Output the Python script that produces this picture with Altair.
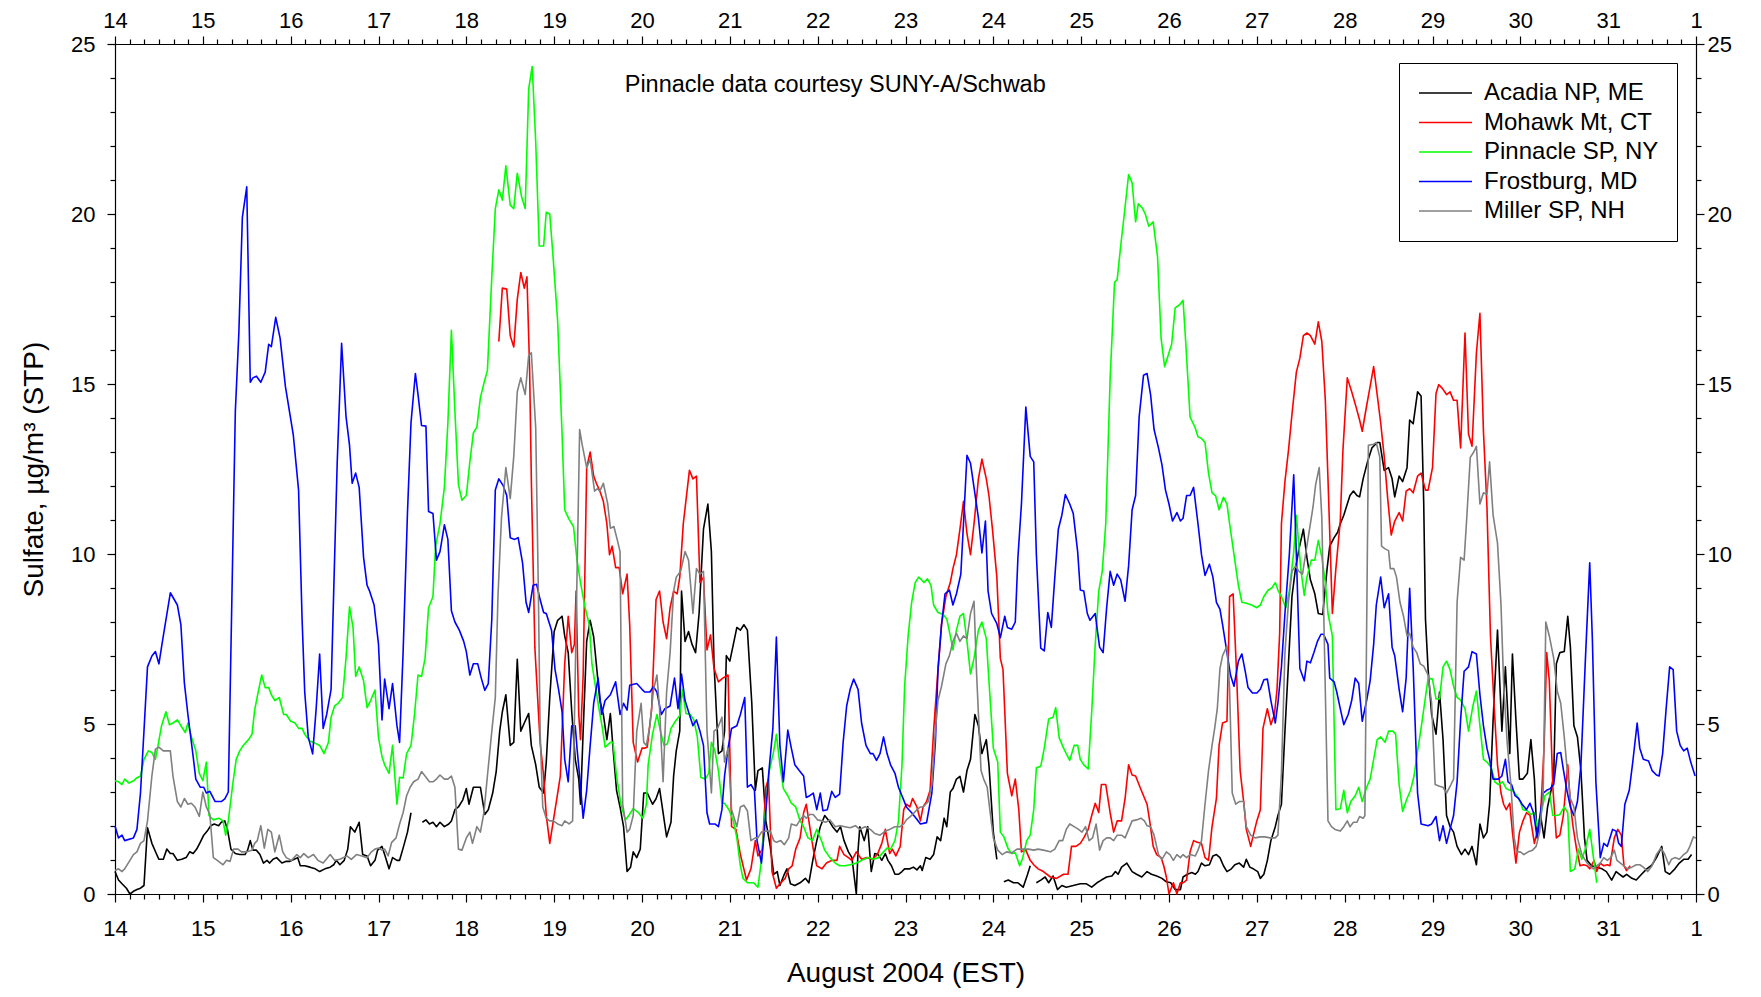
import altair as alt
import pandas as pd

# ---- data (day of August 2004, sulfate ug/m3); None = gap ----
acadia = [(14.00,0.66),(14.04,0.41),(14.08,0.30),(14.13,0.17),(14.17,0.0),(14.21,0.08),(14.25,0.13),(14.29,0.17),(14.33,0.25),(14.37,1.95),(14.42,1.49),(14.47,1.19),(14.50,1.02),(14.55,1.02),(14.59,1.32),(14.63,1.19),(14.66,1.19),(14.71,0.99),(14.76,1.02),(14.81,1.07),(14.85,1.24),(14.89,1.19),(14.93,1.32),(14.97,1.52),(15.01,1.73),(15.05,1.85),(15.09,2.01),(15.13,2.06),(15.18,2.01),(15.21,2.11),(15.25,2.15),(15.28,1.90),(15.32,1.32),(15.37,1.19),(15.42,1.16),(15.48,1.16),(15.51,1.29),(15.54,1.57),(15.57,1.29),(15.61,1.29),(15.65,1.16),(15.69,0.91),(15.73,0.99),(15.76,0.91),(15.80,1.02),(15.84,1.07),(15.90,0.91),(15.95,0.96),(15.99,0.96),(16.04,1.02),(16.08,1.07),(16.11,0.83),(16.16,0.83),(16.22,0.79),(16.28,0.74),(16.33,0.66),(16.39,0.74),(16.45,0.79),(16.49,0.86),(16.52,0.99),(16.56,0.86),(16.61,0.99),(16.65,1.32),(16.68,1.98),(16.73,1.82),(16.78,2.11),(16.82,1.16),(16.87,1.12),(16.91,0.83),(16.96,0.99),
  (16.99,1.29),(17.04,1.40),(17.07,1.16),(17.12,0.74),(17.16,1.07),(17.21,0.99),(17.24,0.99),(17.28,1.35),(17.33,1.82),(17.37,2.39),None,(17.50,2.11),(17.54,2.18),(17.58,2.06),(17.62,2.11),(17.66,1.98),(17.70,2.11),(17.75,1.98),(17.80,2.06),(17.83,2.15),(17.87,2.48),(17.91,2.56),(17.96,2.77),(18.00,3.10),(18.03,2.64),(18.08,3.14),(18.12,3.14),(18.16,3.14),(18.21,2.34),(18.25,2.48),(18.30,2.97),(18.34,3.60),(18.38,4.79),(18.41,5.36),(18.45,5.86),(18.50,4.37),(18.54,4.46),(18.58,6.90),(18.62,4.79),(18.66,5.03),(18.71,5.31),(18.74,4.37),(18.79,3.80),(18.83,3.14),(18.88,2.97),(18.91,3.88),(18.95,5.78),(19.00,7.72),(19.04,8.05),(19.09,8.17),(19.12,7.59),(19.16,7.10),(19.20,5.36),(19.24,3.96),(19.28,3.38),(19.30,2.64),(19.33,4.79),(19.37,7.43),(19.41,8.05),(19.45,7.56),(19.48,6.77),(19.52,5.69),(19.56,5.28),(19.60,4.54),(19.64,5.31),(19.67,4.29),(19.71,3.05),(19.75,2.56),(19.79,1.98),(19.83,0.66),(19.87,0.79),(19.90,1.24),(19.94,1.07),(19.98,1.32),(20.02,2.97),(20.06,2.97),
  (20.12,2.64),(20.16,2.80),(20.20,3.10),(20.24,2.39),(20.28,1.68),(20.33,2.11),(20.36,3.47),(20.39,4.21),(20.43,4.80),(20.45,8.91),(20.49,7.43),(20.53,7.72),(20.57,7.34),(20.61,7.10),(20.65,8.25),(20.70,10.73),(20.75,11.47),(20.79,10.07),(20.82,6.77),(20.87,4.13),(20.91,4.21),(20.94,4.79),(20.96,7.01),(21.00,6.85),(21.04,7.34),(21.08,7.84),(21.12,7.76),(21.16,7.92),(21.20,7.76),(21.25,5.61),(21.29,3.05),(21.32,3.63),(21.37,3.71),(21.41,2.15),(21.46,1.40),(21.50,0.58),(21.54,0.66),(21.57,0.25),(21.62,0.58),(21.65,0.74),(21.69,0.30),(21.74,0.25),(21.80,0.33),(21.86,0.46),(21.90,0.33),(21.95,1.07),(21.99,1.57),(22.03,1.98),(22.08,2.31),(22.13,2.15),(22.17,1.98),(22.22,1.82),(22.26,1.98),(22.30,1.57),(22.35,1.24),(22.39,1.07),(22.44,0.0),(22.46,1.29),(22.48,1.98),(22.53,1.57),(22.57,1.98),(22.61,0.66),(22.65,1.19),(22.69,1.16),(22.73,0.99),(22.77,1.19),(22.80,0.99),(22.84,0.83),(22.88,0.58),(22.92,0.58),(22.96,0.66),(22.99,0.74),(23.05,0.74),(23.09,0.79),(23.13,0.71),(23.17,0.83),
  (23.19,0.69),(23.23,1.07),(23.28,1.02),(23.32,1.16),(23.36,1.68),(23.40,1.57),(23.44,2.23),(23.47,1.98),(23.51,3.00),(23.54,3.10),(23.58,3.38),(23.62,3.46),(23.66,3.00),(23.70,3.63),(23.74,3.96),(23.79,5.28),(23.83,4.95),(23.87,4.13),(23.92,4.54),(23.95,3.80),(24.00,1.82),(24.04,1.02),None,(24.12,0.36),(24.17,0.41),(24.23,0.33),(24.28,0.33),(24.34,0.20),(24.39,0.58),(24.42,0.83),None,(24.49,0.33),(24.54,0.41),(24.59,0.50),(24.63,0.33),(24.68,0.53),(24.73,0.13),(24.78,0.25),(24.83,0.20),(24.91,0.25),(24.99,0.30),(25.06,0.30),(25.12,0.20),(25.18,0.33),(25.23,0.41),(25.29,0.50),(25.35,0.53),(25.39,0.66),(25.42,0.58),(25.46,0.79),(25.52,0.91),(25.58,0.66),(25.63,0.58),(25.69,0.50),(25.75,0.66),(25.80,0.58),(25.86,0.53),(25.92,0.46),(25.97,0.36),(26.02,0.33),(26.07,0.13),(26.13,0.13),
  (26.16,0.50),(26.21,0.58),(26.26,0.63),(26.30,0.58),(26.33,0.66),(26.37,0.91),(26.41,0.83),(26.46,0.86),(26.50,1.12),(26.54,1.16),(26.58,1.07),(26.62,0.83),(26.66,0.66),(26.71,0.74),(26.75,0.86),(26.80,0.91),(26.85,0.79),(26.88,1.02),(26.92,0.79),(26.96,0.74),(27.01,0.66),(27.04,0.46),(27.08,0.58),(27.12,0.99),(27.16,1.57),(27.21,1.98),(27.24,2.31),(27.28,2.64),(27.32,4.79),(27.36,6.77),(27.40,8.75),(27.44,9.57),(27.48,10.15),(27.53,10.73),(27.57,9.90),(27.61,9.24),(27.66,8.83),(27.70,8.25),(27.75,8.22),(27.80,9.57),(27.83,10.23),(27.88,10.48),(27.92,10.64),(27.95,10.89),(27.99,11.14),(28.02,11.39),(28.06,11.72),(28.10,11.85),(28.14,11.72),(28.17,11.68),(28.21,12.21),(28.26,12.71),(28.31,13.12),(28.37,13.28),(28.40,13.28),(28.45,12.46),(28.50,12.54),(28.54,12.21),(28.57,11.68),(28.62,12.29),(28.66,12.13),(28.71,12.54),(28.74,13.94),(28.78,13.83),(28.83,14.77),(28.87,14.65),(28.90,11.50),(28.92,8.09),(28.95,6.60),(28.99,5.28),(29.04,4.70),(29.08,5.94),(29.12,4.54),(29.16,2.31),(29.20,1.98),
  (29.24,1.82),(29.28,1.40),(29.33,1.16),(29.37,1.32),(29.41,1.16),(29.45,1.40),(29.50,0.86),(29.54,2.06),(29.58,1.65),(29.62,1.82),(29.65,2.64),(29.69,5.12),(29.74,7.76),(29.79,4.79),(29.83,6.68),(29.88,4.13),(29.91,7.06),(29.95,5.12),(29.99,3.38),(30.03,3.38),(30.08,3.55),(30.12,4.54),(30.16,3.38),(30.19,1.65),(30.23,2.31),(30.27,1.65),(30.31,2.56),(30.35,3.05),(30.38,3.47),(30.41,6.77),(30.45,7.10),(30.50,7.13),(30.54,8.17),(30.57,7.26),(30.61,4.95),(30.65,4.62),(30.69,3.63),(30.73,1.65),(30.76,0.99),(30.81,0.83),(30.87,0.79),(30.93,0.74),(30.98,0.66),(31.04,0.41),(31.09,0.66),(31.13,0.58),(31.17,0.50),(31.21,0.58),(31.27,0.46),(31.32,0.41),(31.38,0.58),(31.44,0.74),(31.50,0.86),(31.55,1.07),(31.61,1.40),(31.65,0.66),(31.70,0.58),(31.76,0.74),(31.81,0.91),(31.86,1.02),(31.91,1.02),(31.95,1.16)]

mohawk = [(18.37,16.25),(18.41,17.82),(18.46,17.79),(18.50,16.42),(18.54,16.09),(18.58,17.49),(18.62,18.28),(18.66,17.82),(18.69,18.15),(18.72,15.51),(18.74,12.21),(18.78,7.26),(18.84,4.46),(18.88,3.47),(18.91,2.31),(18.95,1.49),(19.00,2.31),(19.04,2.97),(19.07,3.47),(19.12,6.77),(19.16,8.17),(19.20,7.10),(19.23,7.34),(19.25,8.91),(19.28,5.28),(19.30,4.54),(19.33,6.44),(19.37,12.54),(19.41,13.00),(19.45,12.29),(19.48,12.08),(19.52,11.85),(19.56,11.55),(19.60,10.89),(19.63,9.98),(19.66,10.23),(19.70,9.60),(19.74,9.60),(19.78,8.83),(19.83,9.41),(19.86,7.92),(19.90,4.46),(19.95,3.88),(20.00,4.29),(20.03,4.29),
  (20.06,4.32),(20.11,5.45),(20.16,8.66),(20.20,8.91),(20.24,8.00),(20.28,7.51),(20.32,8.42),(20.36,8.91),(20.40,8.83),(20.43,9.32),(20.47,10.89),(20.54,12.46),(20.58,12.21),(20.62,12.29),(20.66,9.16),(20.70,9.32),(20.74,7.18),(20.78,7.62),(20.82,6.63),(20.87,6.24),(20.92,6.35),(20.98,6.44),(21.02,1.98),(21.07,1.90),(21.12,1.16),(21.19,0.41),(21.24,0.74),(21.29,1.57),(21.32,1.12),(21.37,1.32),(21.41,3.14),(21.44,3.38),(21.48,0.66),(21.53,0.17),(21.58,0.33),(21.63,0.46),(21.67,0.74),(21.71,0.83),(21.75,1.32),(21.80,1.65),(21.84,2.39),(21.87,2.64),(21.91,1.98),(21.95,1.32),(21.99,0.83),(22.05,0.74),(22.10,0.91),(22.16,0.99),(22.22,0.99),(22.25,1.40),(22.30,1.16),(22.35,1.07),(22.39,0.99),(22.44,1.24),(22.50,1.02),(22.56,1.07),(22.62,1.02),(22.68,1.16),(22.73,1.49),(22.77,1.90),(22.82,1.19),(22.85,1.32),(22.89,1.12),(22.94,1.40),(22.98,2.48),(23.01,2.64),(23.05,2.56),(23.08,2.81),(23.13,2.56),(23.17,2.15),
  (23.20,2.56),(23.24,2.72),(23.28,3.05),(23.32,4.79),(23.37,6.60),(23.41,7.92),(23.46,8.75),(23.51,9.16),(23.54,9.57),(23.58,9.98),(23.62,10.73),(23.66,11.55),(23.70,10.60),(23.74,9.98),(23.78,10.89),(23.83,12.21),(23.87,12.79),(23.92,12.21),(23.95,11.72),(23.99,10.73),(24.04,9.32),(24.08,6.93),(24.11,6.60),(24.16,3.55),(24.21,2.89),(24.25,3.38),(24.29,2.48),(24.32,1.24),(24.37,1.29),(24.42,0.99),(24.46,0.86),(24.51,0.74),(24.57,0.66),(24.65,0.50),(24.72,0.46),(24.80,0.58),(24.85,0.58),(24.89,1.40),(24.94,1.40),(24.99,1.49),(25.03,1.65),(25.08,1.90),(25.12,2.31),(25.16,2.67),(25.20,2.40),(25.23,3.22),(25.28,3.22),(25.33,2.39),(25.37,1.82),(25.41,2.15),(25.46,2.15),(25.50,2.81),(25.54,3.80),(25.58,3.50),(25.62,3.47),(25.67,3.14),(25.71,2.89),(25.75,2.64),(25.78,2.15),(25.82,1.40),(25.86,1.16),(25.91,1.07),(25.94,0.83),(25.97,0.50),(26.00,0.0),(26.05,0.33),(26.09,0.0),(26.13,0.33),
  (26.16,0.33),(26.20,0.41),(26.24,1.24),(26.28,1.57),(26.32,1.52),(26.37,1.49),(26.41,1.07),(26.45,0.99),(26.49,1.98),(26.54,2.81),(26.57,4.37),(26.61,5.03),(26.66,5.08),(26.69,8.75),(26.73,8.83),(26.77,6.44),(26.81,3.63),(26.85,2.72),(26.88,1.90),(26.93,1.40),(26.96,1.73),(27.00,2.15),(27.04,2.48),(27.07,4.87),(27.12,5.45),(27.16,4.98),(27.20,5.28),(27.23,6.02),(27.26,7.67),(27.28,10.89),(27.32,12.13),(27.36,13.04),(27.40,14.11),(27.45,15.35),(27.49,15.76),(27.53,16.42),(27.57,16.50),(27.61,16.42),(27.66,16.17),(27.70,16.83),(27.74,16.25),(27.78,14.52),(27.81,12.21),(27.86,8.25),(27.90,9.57),(27.95,10.97),(27.98,13.04),(28.03,15.18),(28.08,14.77),(28.13,14.32),(28.17,13.94),(28.20,13.61),(28.25,14.36),(28.29,14.93),(28.33,15.51),(28.37,14.69),(28.41,13.86),(28.45,12.87),(28.49,11.63),(28.53,10.56),(28.57,10.97),(28.62,11.22),(28.66,10.97),(28.70,11.85),(28.74,11.92),(28.78,11.80),(28.83,12.29),(28.87,12.38),(28.92,11.88),(28.95,11.88),(29.00,12.54),(29.04,14.72),(29.07,14.98),(29.11,14.88),(29.16,14.69),(29.20,14.77),
  (29.24,14.52),(29.28,14.52),(29.32,13.12),(29.37,16.50),(29.41,13.53),(29.45,13.17),(29.50,15.92),(29.54,17.08),(29.58,13.61),(29.62,11.39),(29.66,7.59),(29.70,5.61),(29.74,3.80),(29.78,2.97),(29.81,2.64),(29.84,2.48),(29.88,2.67),(29.91,1.82),(29.95,0.91),(29.99,1.82),(30.03,2.15),(30.07,2.39),(30.11,2.31),(30.16,1.49),(30.19,1.82),(30.23,2.31),(30.27,4.29),(30.30,7.10),(30.33,6.27),(30.37,3.14),(30.41,1.65),(30.45,1.73),(30.49,2.31),(30.54,3.80),(30.57,2.64),(30.60,1.98),(30.64,1.32),(30.68,0.83),(30.72,0.86),(30.76,0.83),(30.79,0.74),(30.84,0.99),(30.87,0.66),(30.91,0.91),(30.95,0.83),(30.99,0.86),(31.02,0.83),(31.07,1.65),(31.11,1.90),(31.15,1.73),(31.18,0.83),(31.21,0.69),(31.25,0.83)]

pinnacle = [(14.00,3.33),(14.04,3.30),(14.08,3.22),(14.11,3.38),(14.16,3.26),(14.21,3.33),(14.25,3.42),(14.29,3.47),(14.33,3.96),(14.38,4.21),(14.42,4.16),(14.46,3.96),(14.49,4.37),(14.53,4.95),(14.58,5.36),(14.62,4.98),(14.66,5.03),(14.71,5.12),(14.75,4.95),(14.80,4.75),(14.83,5.03),(14.87,4.62),(14.92,4.21),(14.96,3.55),(15.00,3.33),(15.04,3.88),(15.07,2.31),(15.12,2.18),(15.18,2.23),(15.23,2.15),(15.26,1.73),(15.29,2.15),(15.34,3.22),(15.38,3.96),(15.42,4.21),(15.46,4.37),(15.52,4.54),(15.56,4.70),(15.59,5.41),(15.63,5.94),(15.67,6.44),(15.71,6.07),(15.75,6.07),(15.78,5.86),(15.82,5.69),(15.87,5.78),(15.92,5.28),(15.95,5.28),(16.00,5.08),(16.05,5.03),(16.09,4.87),(16.13,4.87),(16.16,4.70),(16.22,4.49),(16.26,4.46),(16.33,4.37),(16.38,4.13),(16.43,4.46),(16.46,5.20),(16.50,5.53),(16.54,5.61),(16.59,5.78),(16.63,6.93),(16.67,8.45),(16.71,7.84),(16.74,6.40),(16.78,6.68),(16.83,6.27),(16.87,5.48),(16.91,5.69),
  (16.96,6.00),(17.00,4.60),(17.04,4.04),(17.07,3.80),(17.12,3.55),(17.16,4.37),(17.21,2.64),(17.24,3.43),(17.28,3.41),(17.32,4.13),(17.37,4.37),(17.41,5.28),(17.45,6.44),(17.49,6.40),(17.53,6.93),(17.57,8.42),(17.62,8.75),(17.65,10.23),(17.70,10.89),(17.75,11.96),(17.79,13.86),(17.83,16.58),(17.87,14.19),(17.91,12.05),(17.95,11.58),(18.00,11.72),(18.04,12.71),(18.08,13.56),(18.12,13.73),(18.16,14.60),(18.20,15.02),(18.24,15.40),(18.29,18.15),(18.33,20.16),(18.37,20.71),(18.41,20.41),(18.45,21.42),(18.50,20.26),(18.54,20.16),(18.58,21.20),(18.63,20.50),(18.67,20.16),(18.71,23.68),(18.75,24.34),(18.79,22.11),(18.83,19.06),(18.88,19.06),(18.91,20.05),(18.95,20.00),(18.99,18.65),(19.04,16.83),(19.09,13.53),(19.12,11.30),(19.17,11.02),(19.22,10.81),(19.26,9.82),(19.30,9.16),(19.35,8.45),(19.40,7.92),(19.43,6.77),(19.47,6.11),(19.51,5.45),(19.55,4.87),(19.58,4.32),(19.64,4.46),(19.67,4.46),(19.71,3.47),(19.76,2.64),(19.81,2.18),(19.85,2.31),(19.90,2.51),(19.96,2.39),(20.01,2.23),(20.05,2.64),
  (20.07,3.80),(20.12,4.70),(20.17,5.28),(20.21,4.79),(20.25,4.37),(20.29,4.42),(20.33,4.87),(20.38,5.08),(20.43,5.25),(20.46,6.02),(20.50,5.31),(20.55,5.28),(20.59,5.12),(20.63,4.62),(20.67,3.43),(20.72,3.38),(20.76,3.55),(20.79,4.46),(20.83,4.21),(20.87,3.63),(20.91,2.67),(20.94,2.67),(20.99,2.48),(21.04,2.15),(21.08,1.65),(21.12,0.83),(21.15,0.46),(21.20,0.33),(21.27,0.33),(21.32,0.20),(21.36,0.99),(21.40,2.31),(21.45,3.63),(21.50,4.21),(21.53,4.70),(21.57,3.80),(21.61,3.10),(21.66,2.89),(21.70,2.67),(21.75,2.56),(21.80,2.15),(21.84,1.98),(21.89,1.65),(21.94,1.57),(21.99,1.90),(22.05,1.52),(22.08,1.29),(22.14,1.07),(22.20,0.91),(22.25,0.83),(22.31,0.83),(22.37,0.86),(22.44,0.91),(22.50,0.99),(22.58,1.07),(22.63,1.02),(22.69,1.07),(22.75,1.24),(22.79,1.35),(22.83,1.32),(22.88,1.57),(22.92,2.15),(22.96,3.80),(22.99,6.11),(23.03,7.59),(23.07,8.58),(23.11,9.16),(23.15,9.32),
  (23.17,9.27),(23.21,9.16),(23.25,9.27),(23.29,9.08),(23.32,8.50),(23.37,8.28),(23.43,8.22),(23.47,8.09),(23.51,7.59),(23.54,7.18),(23.58,7.76),(23.62,8.17),(23.66,8.25),(23.70,7.43),(23.74,6.47),(23.78,6.93),(23.83,7.76),(23.87,8.00),(23.92,7.51),(23.95,6.27),(24.00,4.29),(24.05,3.88),(24.08,1.82),(24.12,1.68),(24.17,1.32),(24.21,1.19),(24.25,1.21),(24.30,0.83),(24.33,1.02),(24.38,1.57),(24.42,1.73),(24.46,2.48),(24.49,3.71),(24.54,3.76),(24.58,4.29),(24.63,5.15),(24.68,5.20),(24.71,5.48),(24.75,4.59),(24.80,4.29),(24.83,4.13),(24.87,3.93),(24.92,4.37),(24.96,4.37),(24.99,3.96),(25.03,3.80),(25.08,3.68),(25.12,5.36),(25.16,7.34),(25.20,8.91),(25.24,9.49),(25.28,10.89),(25.33,15.18),(25.38,17.99),(25.41,18.07),(25.45,19.06),(25.49,19.97),(25.54,21.16),(25.58,20.92),(25.62,19.77),(25.65,20.30),(25.70,20.16),(25.73,20.00),(25.77,19.64),(25.82,19.77),(25.87,18.73),(25.91,16.34),(25.95,15.51),(25.99,15.84),(26.03,16.17),(26.07,17.24),(26.12,17.33),(26.16,17.46),(26.19,16.25),(26.24,14.03),
  (26.30,13.70),(26.33,13.45),(26.37,13.40),(26.41,13.28),(26.45,12.38),(26.49,11.80),(26.53,11.72),(26.57,11.30),(26.62,11.67),(26.66,11.47),(26.69,10.89),(26.74,9.98),(26.79,9.08),(26.83,8.58),(26.88,8.55),(26.94,8.50),(27.00,8.42),(27.04,8.50),(27.08,8.75),(27.13,8.94),(27.17,9.00),(27.21,9.16),(27.24,8.94),(27.28,8.75),(27.33,8.42),(27.37,8.91),(27.42,10.07),(27.45,11.14),(27.50,9.57),(27.54,8.78),(27.57,9.32),(27.62,9.82),(27.66,9.82),(27.70,10.40),(27.74,9.90),(27.78,9.16),(27.81,8.25),(27.86,7.59),(27.90,2.48),(27.95,2.51),(27.99,3.05),(28.03,2.39),(28.07,2.72),(28.12,2.89),(28.16,3.14),(28.20,2.72),(28.25,3.14),(28.29,3.38),(28.33,3.96),(28.37,4.54),(28.41,4.62),(28.46,4.46),(28.50,4.79),(28.55,4.79),(28.58,4.70),(28.62,3.22),(28.66,2.43),(28.71,2.81),(28.75,3.05),(28.79,3.47),(28.83,4.21),(28.87,4.87),(28.91,5.61),(28.95,6.35),(29.00,6.32),(29.04,5.74),(29.08,5.74),(29.12,6.68),(29.16,6.85),(29.20,6.60),
  (29.24,6.11),(29.28,5.78),(29.32,5.70),(29.37,5.45),(29.41,4.79),(29.46,5.53),(29.50,5.97),(29.54,4.95),(29.58,3.96),(29.62,3.88),(29.67,3.71),(29.71,3.30),(29.75,3.22),(29.80,3.30),(29.84,3.10),(29.88,3.05),(29.91,3.05),(29.96,2.89),(30.00,2.72),(30.03,2.48),(30.08,2.45),(30.12,2.34),(30.16,2.39),(30.19,1.98),(30.23,2.31),(30.28,2.89),(30.33,3.00),(30.37,2.31),(30.41,2.31),(30.45,2.34),(30.50,2.56),(30.54,2.39),(30.57,0.66),(30.62,0.74),(30.66,1.32),(30.70,1.02),(30.74,1.32),(30.79,1.90),(30.82,1.32),(30.87,0.33)]

frostburg = [(14.00,2.00),(14.04,1.65),(14.08,1.73),(14.11,1.57),(14.21,1.65),(14.25,1.90),(14.29,2.97),(14.33,4.80),(14.37,6.68),(14.42,7.00),(14.46,7.13),(14.50,6.77),(14.54,7.43),(14.63,8.86),(14.71,8.50),(14.75,7.92),(14.79,6.20),(14.83,5.28),(14.89,4.04),(14.92,3.38),(14.97,3.14),(15.01,3.14),(15.04,2.97),(15.08,3.02),(15.14,2.72),(15.21,2.72),(15.25,2.80),(15.29,3.00),(15.37,14.19),(15.41,16.50),(15.45,19.90),(15.50,20.80),(15.54,15.05),(15.57,15.18),(15.61,15.23),(15.66,15.05),(15.71,15.35),(15.75,16.17),(15.78,16.10),(15.83,16.96),(15.88,16.34),(15.94,14.93),(16.03,13.50),(16.09,11.88),(16.13,8.09),(16.16,5.94),(16.20,4.62),(16.25,4.12),(16.29,5.44),(16.33,7.06),(16.37,4.87),(16.41,5.28),(16.46,6.02),(16.49,8.90),(16.53,12.70),(16.58,16.20),(16.63,14.05),(16.67,13.20),(16.70,12.08),(16.74,12.38),(16.78,11.96),(16.83,9.90),(16.87,9.08),(16.90,8.90),
  (16.95,8.50),(17.00,7.34),(17.04,5.12),(17.07,6.32),(17.12,5.45),(17.16,6.19),(17.21,4.95),(17.24,4.46),(17.28,7.10),(17.33,11.22),(17.37,13.86),(17.42,15.31),(17.45,14.69),(17.49,13.78),(17.54,13.76),(17.57,11.25),(17.62,11.19),(17.66,9.82),(17.70,10.07),(17.75,10.86),(17.79,10.43),(17.83,8.33),(17.87,8.00),(17.92,7.76),(17.97,7.43),(18.00,7.13),(18.04,6.44),(18.08,6.77),(18.13,6.77),(18.17,6.35),(18.21,5.99),(18.25,6.19),(18.29,8.09),(18.33,11.88),(18.37,12.21),(18.42,12.01),(18.46,11.72),(18.50,10.48),(18.55,10.43),(18.59,10.48),(18.64,9.74),(18.68,8.58),(18.71,8.28),(18.76,9.08),(18.80,9.11),(18.84,8.66),(18.88,8.28),(18.91,8.25),(18.97,7.76),(19.01,6.60),(19.05,6.02),(19.09,5.36),(19.12,3.96),(19.16,3.30),(19.20,4.95),(19.24,4.95),(19.26,4.29),(19.29,3.47),(19.33,2.23),(19.37,3.05),(19.41,4.37),(19.45,5.61),(19.50,6.35),(19.54,5.28),(19.58,5.69),(19.64,5.86),(19.70,6.24),(19.75,5.28),(19.79,5.61),(19.83,5.41),(19.86,6.14),(19.94,6.19),(20.00,6.02),(20.03,5.94),
  (20.09,5.94),(20.13,6.10),(20.17,5.94),(20.22,5.28),(20.26,5.45),(20.32,5.53),(20.37,6.35),(20.41,5.45),(20.45,6.47),(20.49,5.69),(20.53,5.36),(20.58,4.95),(20.62,5.12),(20.66,4.79),(20.70,4.37),(20.74,2.39),(20.77,2.06),(20.83,2.06),(20.87,1.98),(20.91,2.48),(20.94,3.47),(20.98,4.29),(21.02,4.87),(21.08,4.95),(21.12,5.28),(21.17,5.78),(21.20,3.14),(21.24,3.22),(21.28,3.05),(21.31,1.57),(21.36,0.91),(21.40,2.06),(21.44,3.47),(21.49,4.87),(21.53,7.56),(21.57,4.37),(21.61,3.30),(21.66,4.82),(21.70,4.29),(21.74,3.80),(21.79,3.63),(21.84,3.47),(21.87,2.84),(21.91,2.89),(21.95,2.97),(21.99,2.48),(22.03,2.97),(22.06,2.45),(22.11,2.48),(22.16,3.02),(22.20,2.84),(22.25,2.94),(22.29,4.46),(22.33,5.53),(22.37,6.02),(22.41,6.32),(22.46,6.02),(22.50,5.03),(22.55,4.37),(22.60,4.13),(22.63,4.13),(22.67,3.93),(22.71,4.13),(22.75,4.62),(22.79,4.13),(22.83,3.80),(22.88,3.55),(22.92,3.14),(22.98,2.76),(23.01,2.56),(23.07,2.39),(23.12,2.23),(23.17,2.06),
  (23.24,2.10),(23.30,2.97),(23.34,4.46),(23.37,6.60),(23.41,7.92),(23.45,8.83),(23.50,8.94),(23.54,8.50),(23.58,8.83),(23.63,9.41),(23.66,10.89),(23.70,12.90),(23.74,12.67),(23.78,11.96),(23.83,11.06),(23.87,10.03),(23.91,10.97),(23.94,8.91),(23.98,8.25),(24.04,7.95),(24.08,7.54),(24.13,8.17),(24.16,7.84),(24.21,7.79),(24.25,8.00),(24.28,9.90),(24.32,11.47),(24.37,14.32),(24.42,12.87),(24.46,12.71),(24.49,9.98),(24.54,7.23),(24.58,7.15),(24.62,8.28),(24.66,7.84),(24.70,9.32),(24.74,10.73),(24.78,11.14),(24.82,11.75),(24.87,11.47),(24.91,11.19),(24.96,10.07),(24.99,8.94),(25.03,8.91),(25.07,8.25),(25.10,8.05),(25.16,8.25),(25.18,7.84),(25.21,7.26),(25.25,7.10),(25.29,8.42),(25.33,9.49),(25.37,9.08),(25.41,9.41),(25.45,9.24),(25.50,8.61),(25.54,9.65),(25.58,11.30),(25.62,11.72),(25.66,14.03),(25.71,15.26),(25.75,15.31),(25.79,14.69),(25.83,13.66),(25.88,13.12),(25.92,12.62),(25.96,11.88),(26.00,11.47),(26.04,10.97),(26.09,11.22),(26.13,10.97),
  (26.16,11.05),(26.20,11.72),(26.24,11.72),(26.28,11.96),(26.33,10.89),(26.37,9.98),(26.41,9.37),(26.46,9.70),(26.50,9.32),(26.54,8.58),(26.58,8.38),(26.61,7.92),(26.66,7.10),(26.70,6.44),(26.74,6.11),(26.79,6.85),(26.83,7.06),(26.87,6.52),(26.90,6.07),(26.95,5.91),(27.00,5.91),(27.04,6.02),(27.08,6.30),(27.12,6.32),(27.16,5.69),(27.21,5.03),(27.24,5.61),(27.28,6.68),(27.32,8.25),(27.37,9.98),(27.42,12.33),(27.45,9.98),(27.49,6.63),(27.54,6.27),(27.57,6.85),(27.61,6.80),(27.65,7.10),(27.69,7.43),(27.73,7.64),(27.76,7.64),(27.81,7.34),(27.83,6.35),(27.88,6.24),(27.91,5.94),(27.95,5.45),(27.99,4.98),(28.04,5.28),(28.08,5.69),(28.12,6.35),(28.16,6.19),(28.20,5.08),(28.25,5.69),(28.29,6.27),(28.33,7.34),(28.36,8.50),(28.41,9.32),(28.45,8.42),(28.50,8.83),(28.54,7.26),(28.57,7.01),(28.62,6.02),(28.66,5.36),(28.70,6.35),(28.74,8.99),(28.78,6.68),(28.83,2.97),(28.87,2.06),(28.95,2.01),(28.99,2.06),(29.04,2.28),(29.08,1.57),(29.12,2.01),(29.16,1.49),(29.21,2.01),
  (29.24,2.31),(29.28,3.30),(29.32,5.12),(29.36,6.55),(29.41,6.68),(29.45,7.13),(29.50,7.06),(29.54,5.86),(29.58,4.95),(29.62,4.29),(29.65,3.96),(29.69,3.38),(29.75,3.38),(29.79,3.47),(29.83,3.96),(29.86,3.30),(29.90,3.22),(29.94,2.89),(29.98,2.81),(30.02,2.64),(30.07,2.48),(30.11,2.67),(30.15,2.39),(30.19,1.68),(30.22,2.23),(30.26,2.97),(30.30,3.05),(30.34,3.10),(30.38,3.22),(30.42,4.13),(30.46,4.16),(30.49,3.66),(30.53,3.05),(30.57,2.56),(30.61,2.31),(30.65,2.72),(30.69,3.80),(30.74,6.85),(30.79,9.74),(30.82,7.51),(30.86,3.30),(30.91,1.07),(30.95,1.49),(30.99,1.40),(31.05,1.90),(31.09,1.85),(31.12,1.49),(31.15,1.40),(31.19,2.64),(31.24,3.05),(31.28,3.88),(31.33,5.03),(31.36,4.29),(31.40,3.96),(31.46,3.91),(31.50,3.63),(31.55,3.50),(31.58,3.47),(31.62,4.13),(31.66,5.45),(31.70,6.68),(31.74,6.60),(31.78,4.79),(31.82,4.37),(31.86,4.21),(31.90,4.29),(31.94,3.88),(31.99,3.47)]

miller = [(14.00,0.69),(14.04,0.74),(14.08,0.66),(14.11,0.74),(14.17,0.99),(14.21,1.16),(14.25,1.24),(14.29,1.49),(14.33,1.57),(14.37,2.15),(14.42,3.47),(14.46,4.26),(14.50,4.32),(14.55,4.21),(14.63,4.21),(14.66,3.47),(14.71,2.72),(14.75,2.56),(14.79,2.81),(14.83,2.64),(14.87,2.67),(14.91,2.56),(14.96,2.28),(15.00,3.00),(15.04,2.56),(15.08,2.34),(15.12,1.07),(15.18,0.96),(15.23,0.86),(15.27,0.99),(15.31,0.96),(15.35,1.32),(15.40,1.32),(15.44,1.24),(15.50,1.24),(15.56,1.29),(15.59,1.49),(15.62,1.57),(15.66,2.01),(15.70,1.35),(15.74,1.90),(15.78,1.82),(15.82,1.24),(15.87,1.73),(15.91,1.24),(15.95,1.07),(16.01,0.99),(16.07,1.16),(16.11,1.07),(16.15,1.19),(16.20,1.07),(16.26,1.16),(16.31,0.99),(16.37,0.91),(16.45,1.16),(16.50,0.99),(16.56,1.02),(16.64,1.12),(16.69,1.02),(16.75,1.16),(16.81,1.12),(16.87,1.07),(16.92,1.24),(16.96,1.32),
  (17.00,1.35),(17.04,1.29),(17.07,1.32),(17.11,1.12),(17.15,1.52),(17.20,1.65),(17.24,2.06),(17.28,2.39),(17.32,2.89),(17.36,3.14),(17.40,3.30),(17.45,3.38),(17.49,3.60),(17.53,3.47),(17.58,3.30),(17.62,3.30),(17.66,3.38),(17.70,3.50),(17.75,3.38),(17.79,3.38),(17.83,3.47),(17.87,3.14),(17.91,1.32),(17.95,1.29),(18.00,1.65),(18.04,1.82),(18.07,1.49),(18.12,1.98),(18.16,1.82),(18.20,2.39),(18.24,3.47),(18.29,4.79),(18.33,5.78),(18.36,8.75),(18.40,11.06),(18.45,12.54),(18.50,11.63),(18.54,12.87),(18.58,14.77),(18.62,15.18),(18.67,14.69),(18.71,15.84),(18.74,15.92),(18.79,13.70),(18.82,8.91),(18.84,4.79),(18.87,2.56),(18.91,2.23),(18.95,2.15),(18.99,2.15),(19.04,2.06),(19.09,2.01),(19.12,2.15),(19.17,2.06),(19.21,2.15),(19.29,13.66),(19.32,13.20),(19.37,12.54),(19.41,12.79),(19.46,11.85),(19.49,11.92),(19.52,11.85),(19.56,12.08),(19.61,11.47),(19.64,10.76),(19.68,10.81),(19.72,10.40),(19.75,10.07),(19.78,2.64),(19.83,1.82),(19.86,1.90),(19.90,2.31),(19.94,4.79),(19.99,5.61),(20.02,4.46),
  (20.05,4.37),(20.09,4.95),(20.13,6.00),(20.17,6.44),(20.20,5.45),(20.24,3.30),(20.28,5.94),(20.32,7.10),(20.36,8.91),(20.39,9.32),(20.44,9.49),(20.49,10.07),(20.53,9.82),(20.58,8.25),(20.62,9.57),(20.66,9.41),(20.70,9.49),(20.74,4.79),(20.79,2.97),(20.82,4.79),(20.86,4.87),(20.91,5.20),(20.94,3.88),(20.98,4.29),(21.02,2.48),(21.08,1.98),(21.12,2.56),(21.16,2.61),(21.20,2.45),(21.24,1.57),(21.29,1.65),(21.32,1.65),(21.36,1.82),(21.41,1.85),(21.46,1.85),(21.50,1.57),(21.53,1.52),(21.58,1.57),(21.62,1.45),(21.67,1.65),(21.70,2.06),(21.76,2.01),(21.80,2.18),(21.84,2.31),(21.87,2.23),(21.91,2.34),(21.95,2.34),(22.00,2.18),(22.05,2.15),(22.09,2.11),(22.14,2.18),(22.20,1.98),(22.25,2.01),(22.31,1.98),(22.37,1.95),(22.43,2.01),(22.48,1.90),(22.54,1.98),(22.60,1.90),(22.65,1.78),(22.71,1.73),(22.77,1.85),(22.82,1.90),(22.88,1.98),(22.94,1.98),(22.98,2.06),(23.01,2.18),(23.07,2.31),(23.13,2.48),(23.17,2.56),
  (23.20,2.56),(23.26,2.72),(23.30,3.22),(23.34,4.79),(23.37,5.69),(23.41,6.11),(23.46,6.77),(23.50,7.01),(23.54,7.43),(23.58,7.67),(23.62,7.43),(23.66,7.59),(23.70,7.51),(23.74,8.25),(23.78,8.61),(23.81,6.44),(23.86,3.63),(23.89,3.38),(23.93,3.14),(23.96,2.48),(24.00,1.65),(24.05,1.29),(24.10,1.16),(24.15,1.24),(24.21,1.21),(24.27,1.32),(24.34,1.32),(24.40,1.32),(24.46,1.29),(24.51,1.32),(24.57,1.29),(24.65,1.24),(24.70,1.32),(24.75,1.57),(24.79,1.57),(24.83,1.90),(24.87,2.06),(24.92,1.98),(24.97,1.90),(25.01,1.82),(25.05,1.98),(25.09,1.57),(25.13,1.65),(25.17,2.06),(25.21,1.29),(25.25,1.57),(25.29,1.65),(25.33,1.65),(25.37,1.57),(25.41,1.73),(25.46,1.73),(25.50,1.65),(25.54,1.90),(25.58,2.15),(25.63,2.18),(25.68,2.23),(25.72,2.15),(25.75,2.01),(25.79,1.98),(25.83,1.73),(25.88,1.16),(25.92,1.02),(25.97,1.24),(26.01,1.16),(26.05,0.99),(26.09,1.16),(26.13,1.07),
  (26.16,1.16),(26.20,1.07),(26.24,1.16),(26.30,1.12),(26.33,1.29),(26.37,1.57),(26.41,2.64),(26.45,3.63),(26.49,4.37),(26.52,4.87),(26.55,5.45),(26.58,6.63),(26.61,7.01),(26.66,7.29),(26.69,6.02),(26.72,2.97),(26.76,2.64),(26.80,2.72),(26.85,2.72),(26.88,1.98),(26.93,1.73),(26.98,1.65),(27.04,1.68),(27.09,1.68),(27.15,1.65),(27.21,1.65),(27.24,1.73),(27.28,3.55),(27.32,7.10),(27.36,8.58),(27.40,9.49),(27.44,9.65),(27.48,9.49),(27.52,9.41),(27.56,10.07),(27.60,10.73),(27.64,11.39),(27.67,12.05),(27.71,12.54),(27.74,11.06),(27.78,5.94),(27.81,2.15),(27.85,1.98),(27.89,1.90),(27.95,1.85),(27.99,1.98),(28.03,2.15),(28.06,1.98),(28.10,2.11),(28.14,2.11),(28.17,2.28),(28.21,2.23),(28.23,2.30),(28.27,13.20),(28.33,13.23),(28.36,13.28),(28.40,12.84),(28.42,10.23),(28.46,10.15),(28.50,10.10),(28.52,9.57),(28.56,9.57),(28.59,9.32),(28.63,8.58),(28.67,8.17),(28.71,7.59),(28.74,7.67),(28.78,7.26),(28.82,7.10),(28.86,6.77),(28.90,6.70),(28.95,6.44),(28.99,5.61),(29.03,3.22),(29.08,3.17),(29.12,3.14),(29.16,2.97),(29.21,3.22),
  (29.24,3.38),(29.28,8.58),(29.32,9.90),(29.36,9.82),(29.39,11.06),(29.43,12.84),(29.47,13.00),(29.50,13.17),(29.54,11.47),(29.58,11.80),(29.62,11.75),(29.65,12.71),(29.69,11.14),(29.74,10.32),(29.78,8.50),(29.81,6.19),(29.85,4.46),(29.89,3.30),(29.93,1.65),(29.96,1.24),(30.00,1.24),(30.04,1.16),(30.09,1.24),(30.14,1.29),(30.18,1.40),(30.22,1.82),(30.26,2.97),(30.29,8.00),(30.33,7.59),(30.38,6.93),(30.42,5.97),(30.46,5.61),(30.50,4.62),(30.54,3.47),(30.57,2.81),(30.61,2.56),(30.65,1.65),(30.70,1.16),(30.76,0.91),(30.79,0.83),(30.83,0.74),(30.87,0.83),(30.91,0.91),(30.95,1.07),(30.99,0.99),(31.03,1.07),(31.07,1.29),(31.10,0.99),(31.14,0.91),(31.18,0.83),(31.22,0.74),(31.27,0.79),(31.32,0.86),(31.36,0.86),(31.40,0.79),(31.45,0.66),(31.50,0.83),(31.55,1.16),(31.60,1.35),(31.64,1.19),(31.69,0.86),(31.72,1.02),(31.76,1.07),(31.81,1.02),(31.86,1.16),(31.90,1.24),(31.93,1.40),(31.97,1.68),(32.00,1.65)]

site_names = ["Acadia NP, ME", "Mohawk Mt, CT", "Pinnacle SP, NY", "Frostburg, MD", "Miller SP, NH"]
site_colors = ["#000000", "#FF0000", "#00FF00", "#0000FF", "#808080"]
site_series = [acadia, mohawk, pinnacle, frostburg, miller]

x_ticks = [14 + i / 6 for i in range(18 * 6 + 1)]
y_ticks = list(range(26))
note_text = "Pinnacle data courtesy SUNY-A/Schwab"

# ---- build table ----
rows = []
for name, series in zip(site_names, site_series):
    seg = 0
    for pt in series:
        if pt is None:
            seg += 1
            continue
        rows.append({"site": name, "seg": f"{name}-{seg}", "day": pt[0], "val": pt[1]})
df = pd.DataFrame(rows)
note_df = pd.DataFrame([{"day": 22.2, "val": 23.8, "label": note_text}])

FONT = "Liberation Sans"
x_scale = alt.Scale(domain=[14, 32], nice=False, zero=False)
y_scale = alt.Scale(domain=[0, 25], nice=False)

major_x = "abs(datum.value - round(datum.value)) < 0.01"
x_label_expr = f"{major_x} ? (round(datum.value) == 32 ? '1' : '' + round(datum.value)) : ''"
major_y = "datum.value % 5 == 0"
y_label_expr = f"{major_y} ? datum.label : ''"

common_axis = dict(
    grid=False, domainColor="black", tickColor="black", labelColor="black",
    labelFont=FONT, labelFontSize=22, domainWidth=1.2, tickWidth=1.2,
    labelOverlap=False, labelFlush=False,
)

def x_axis(orient, **kw):
    return alt.Axis(orient=orient, values=x_ticks, labelExpr=x_label_expr,
                    tickSize={"condition": {"test": major_x, "value": 8}, "value": 5},
                    **common_axis, **kw)

def y_axis(orient, **kw):
    return alt.Axis(orient=orient, values=y_ticks, labelExpr=y_label_expr,
                    tickSize={"condition": {"test": major_y, "value": 8}, "value": 5},
                    **common_axis, **kw)

lines = alt.Chart(df).mark_line(strokeWidth=1.6, strokeJoin="round").encode(
    x=alt.X("day:Q", scale=x_scale,
            axis=x_axis("bottom", title="August 2004 (EST)", titleFont=FONT, titleFontSize=28,
                        titleFontWeight="normal", titleColor="black", titlePadding=20, labelPadding=16)),
    y=alt.Y("val:Q", scale=y_scale,
            axis=y_axis("left", title="Sulfate, µg/m³ (STP)", titleFont=FONT, titleFontSize=28,
                        titleFontWeight="normal", titleColor="black", titlePadding=22, labelPadding=12)),
    color=alt.Color("site:N", scale=alt.Scale(domain=site_names, range=site_colors),
                    sort=site_names,
                    legend=alt.Legend(title=None, orient="none", legendX=1284, legendY=19,
                                      symbolType="M-1,0H4.3", symbolSize=400, symbolStrokeWidth=1.5,
                                      labelFont=FONT, labelFontSize=24, labelColor="black",
                                      labelOffset=43, rowPadding=5.5, padding=18,
                                      strokeColor="black", fillColor="white", labelLimit=400)),
    detail="seg:N",
    order=alt.Order("day:Q"),
)

note = alt.Chart(note_df).mark_text(font=FONT, fontSize=23.5, color="black", baseline="middle").encode(
    x=alt.X("day:Q", scale=x_scale, axis=x_axis("top", title=None, labelPadding=4)),
    y=alt.Y("val:Q", scale=y_scale, axis=y_axis("right", title=None, labelPadding=3)),
    text="label:N",
)

chart = alt.layer(lines, note).resolve_axis(x="independent", y="independent").properties(
    width=1581, height=850,
    autosize=alt.AutoSizeParams(type="none"),
    padding={"left": 107, "top": 36, "right": 55, "bottom": 95},
    background="white",
).configure_view(stroke=None)

chart.save("out.html", embed_options={"renderer": "svg", "actions": False})
